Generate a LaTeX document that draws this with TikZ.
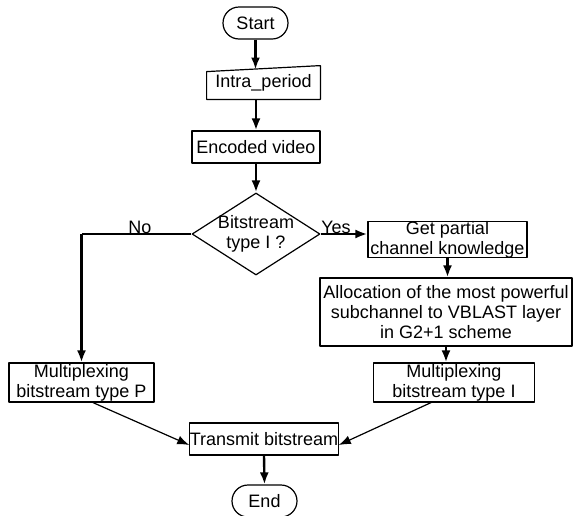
\documentclass[tikz,border=0pt]{standalone}
\usepackage{fontspec}
\setmainfont{Liberation Sans}
\usetikzlibrary{arrows.meta,shapes.geometric}

\begin{document}
\begin{tikzpicture}[x=0.5pt,y=-0.5pt,line join=bevel,>={Latex[length=6pt,width=4.5pt]},
  every node/.style={font=\fontsize{9}{10}\selectfont,inner sep=0pt,align=center},
  box/.style={draw,line width=0.6pt,rectangle},
  term/.style={draw,line width=0.6pt,rectangle,rounded corners=8pt,minimum width=32.5pt,minimum height=16pt},
  flow/.style={line width=1.2pt,->},
  thinflow/.style={line width=0.6pt,->}]
  \useasboundingbox (0,0) rectangle (573,515);

  \node[term] (start) at (255.5,23) {Start};
  \node[minimum width=56.5pt,minimum height=16.5pt] (intra) at (263.5,82.5) {\raisebox{-1.5pt}{Intra\_period}};
  \node[box,minimum width=64pt,minimum height=16pt] (enc) at (256,147) {Encoded video};
  \node[draw,line width=0.6pt,diamond,minimum width=64pt,minimum height=41pt] (dec) at (256,234) {};
  \node at (dec) {Bitstream\\type I ?};

  \node[box,minimum width=79.5pt,minimum height=17.5pt] (getck) at (447.5,239.5) {Get partial\\channel knowledge};
  \node[box,minimum width=126pt,minimum height=34pt] (alloc) at (446,312) {Allocation of the most powerful\\subchannel to VBLAST layer\\in G2+1 scheme};
  \node[box,minimum width=80.75pt,minimum height=19.5pt] (mxi) at (454,382.5) {Multiplexing\\bitstream type I};
  \node[box,minimum width=72.5pt,minimum height=19.5pt] (mxp) at (81.5,382.5) {Multiplexing\\bitstream type P};

  \node[box,minimum width=73pt,minimum height=16pt] (tx) at (264,439) {Transmit bitstream};
  \node[term] (end) at (264.5,501) {End};

  \draw[line width=0.6pt] (intra.south west) -- (intra.south east) -- (intra.north east)
    -- ([yshift=-3pt]intra.north west) -- cycle;
  \coordinate (intratop) at (255.5,69.5);
  \coordinate (noc) at (dec.west -| mxp);

  \draw[flow] (start.south) -- (intratop);
  \draw[flow] (enc.north |- intra.south) -- (enc.north);
  \draw[flow] (enc.south) -- (dec.north);
  \draw[line width=0.6pt] (dec.west) -- (noc);
  \draw[flow] (noc) -- (mxp.north);
  \draw[flow] (dec.east) -- (dec.east -| getck.west);
  \draw[flow] (getck.south) -- (getck.south |- alloc.north);
  \draw[flow] (alloc.south) -- (alloc.south |- mxi.north);
  \draw[thinflow] ([xshift=5.75pt]mxp.south) -- ([yshift=-3pt]tx.west);
  \draw[thinflow] ([xshift=-11.5pt]mxi.south) -- ([yshift=-3pt]tx.east);
  \draw[flow] (tx.south) -- (end.north);

  \node at (140,227) {No};
  \node at (336,227) {Yes};
\end{tikzpicture}
\end{document}
